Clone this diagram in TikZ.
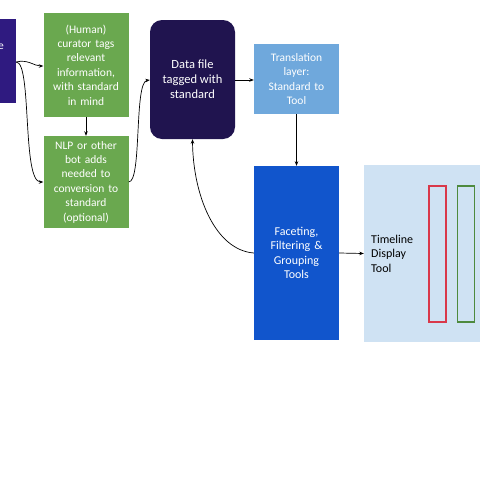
\documentclass[tikz,border=0pt]{standalone}
\usepackage{fontspec}
\setmainfont{Carlito}
\usetikzlibrary{arrows.meta}
\definecolor{srcpurple}{HTML}{2F1A80}
\definecolor{navy}{HTML}{20144F}
\definecolor{grn}{HTML}{6AA84F}
\definecolor{ltblue}{HTML}{6FA8DC}
\definecolor{midblue}{HTML}{1155CC}
\definecolor{panel}{HTML}{CFE2F3}
\definecolor{barred}{HTML}{D9384A}
\definecolor{bargreen}{HTML}{4E8A3E}
\tikzset{
  box/.style={inner sep=2pt, align=center, text=white, font=\fontsize{11.5}{14.4}\selectfont, anchor=center},
  greenbox/.style={box, fill=grn, minimum width=85pt, text width=80pt},
  conn/.style={line width=0.7pt, -{Stealth[length=4.5pt,width=3.5pt]}},
  bar/.style={line width=1.3pt, fill=none}
}
\begin{document}
\begin{tikzpicture}[x=1pt,y=-1pt]
\useasboundingbox (0,0) rectangle (480,480);
\clip (0,0) rectangle (480,480);
% left source box (mostly off-canvas)
\node[box, fill=srcpurple, minimum width=86pt, minimum height=84pt] (src) at (-27,61) {};
\node[box, inner sep=0pt] (srctext) at (1,47) {e};
% green boxes
\node[greenbox, minimum height=104pt] (cur) at (86,65) {(Human)\\curator tags\\relevant\\information,\\with standard\\in mind};
\node[greenbox, minimum height=92pt] (nlp) at (86,182) {NLP or other\\bot adds\\needed to\\conversion to\\standard\\(optional)};
% data file
\node[box, fill=navy, rounded corners=12pt, minimum width=85pt, minimum height=119pt, font=\fontsize{12.5}{15}\selectfont] (data) at (192.5,79.5) {Data file\\tagged with\\standard};
% translation
\node[box, fill=ltblue, minimum width=85pt, minimum height=70pt, text width=80pt] (trans) at (296.5,79) {Translation\\layer:\\Standard to\\Tool};
% faceting
\node[box, fill=midblue, minimum width=85pt, minimum height=174pt, text width=80pt, font=\fontsize{12}{14.4}\selectfont] (facet) at (296.5,253) {Faceting,\\Filtering \&\\Grouping\\Tools};
% timeline panel
\node[box, fill=panel, minimum width=130pt, minimum height=177pt] (panel) at (429,253.5) {};
\node[box, text=black, align=left, anchor=west, inner sep=0pt, font=\fontsize{12}{14.6}\selectfont] (tltext) at (371,253.5) {Timeline\\Display\\Tool};
\node[bar, draw=barred, minimum width=17pt, minimum height=136pt, inner sep=0pt] (redbar) at (437.5,254) {};
\node[bar, draw=bargreen, minimum width=17pt, minimum height=136pt, inner sep=0pt] (greenbar) at (466,254) {};
% connectors
\draw[conn] (src.east |- 0,62) .. controls (28,59) and (34,66) .. (cur.west |- 0,66);
\draw[conn] (src.east |- 0,62) .. controls (32,62) and (22,182) .. (nlp.west |- 0,182);
\draw[conn] (cur.south) -- (nlp.north);
\draw[conn] (nlp.east) .. controls (142,182) and (134,82) .. (data.west |- 0,80);
\draw[conn] (data.east |- 0,80) -- (trans.west |- 0,80);
\draw[conn] (trans.south) -- (facet.north);
\draw[conn] (facet.west) .. controls (215,250) and (193,195) .. (data.south);
\draw[conn] (facet.east) -- (panel.west);
\end{tikzpicture}
\end{document}
